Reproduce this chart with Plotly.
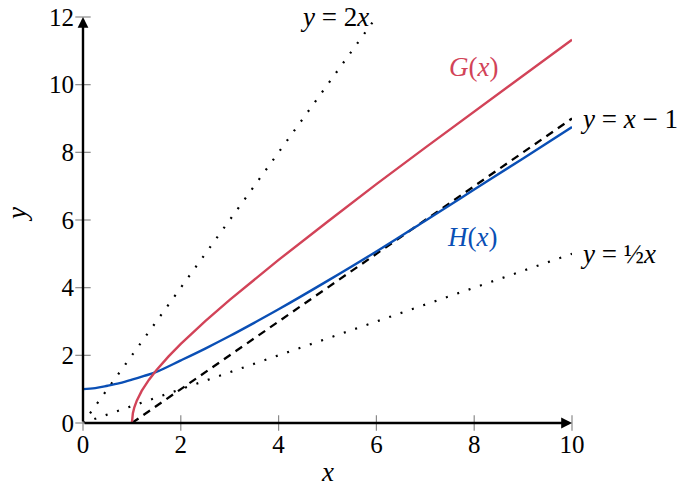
import plotly.graph_objects as go

# axis ticks
x_ticks = [0, 2, 4, 6, 8, 10]
y_ticks = [0, 2, 4, 6, 8, 10, 12]

# G(x)
g_x = [1, 1.005, 1.02, 1.05, 1.1, 1.2, 1.35, 1.5, 1.75, 2, 2.5, 3, 4, 5, 6, 7, 8, 9, 10]
g_y = [0, 0.146, 0.293, 0.465, 0.66, 0.95, 1.28, 1.56, 1.97, 2.34, 3.01, 3.64,
       4.82, 5.95, 7.06, 8.14, 9.21, 10.27, 11.33]

# H(x)
h_x = [0, 0.25, 0.5, 0.75, 1, 1.25, 1.5, 2, 2.5, 3, 3.5, 4, 5, 6, 7, 8, 9, 10]
h_y = [1.0, 1.03, 1.1, 1.18, 1.28, 1.39, 1.51, 1.85, 2.2, 2.57, 2.96, 3.36,
       4.2, 5.07, 5.98, 6.9, 7.82, 8.75]

# reference lines
twox_x, twox_y = [0, 6], [0, 12]
half_x, half_y = [0, 10], [0, 5]
xm1_x, xm1_y = [1, 10], [0, 9]

RED = "#d24358"
BLUE = "#0a4fb5"
FONT = "Liberation Serif"

fig = go.Figure()

dotted = dict(color="black", width=2.2, dash="2px,10px")
fig.add_trace(go.Scatter(x=twox_x, y=twox_y, mode="lines", line=dotted))
fig.add_trace(go.Scatter(x=half_x, y=half_y, mode="lines", line=dotted))
fig.add_trace(go.Scatter(x=xm1_x, y=xm1_y, mode="lines",
                         line=dict(color="black", width=2.3, dash="8px,6px")))
fig.add_trace(go.Scatter(x=h_x, y=h_y, mode="lines", line_shape="spline",
                         line=dict(color=BLUE, width=2.4)))
fig.add_trace(go.Scatter(x=g_x, y=g_y, mode="lines",
                         line=dict(color=RED, width=2.4)))

# gray tick marks crossing the axes
tick_marker = dict(size=11, color="#8a8a8a", line=dict(color="#8a8a8a", width=1.2))
fig.add_trace(go.Scatter(x=x_ticks, y=[0] * len(x_ticks), mode="markers", cliponaxis=False,
                         marker=dict(symbol="line-ns-open", **tick_marker)))
fig.add_trace(go.Scatter(x=[0] * len(y_ticks), y=y_ticks, mode="markers", cliponaxis=False,
                         marker=dict(symbol="line-ew-open", **tick_marker)))

# axes with arrows
for tip, tail in [((x_ticks[-1], 0), (0, 0)), ((0, y_ticks[-1]), (0, 0))]:
    fig.add_annotation(x=tip[0], y=tip[1], ax=tail[0], ay=tail[1],
                       xref="x", yref="y", axref="x", ayref="y", text="",
                       showarrow=True, arrowhead=2, arrowsize=0.9,
                       arrowwidth=2.4, arrowcolor="black")

lab = dict(family=FONT, size=27, color="black")
fig.add_annotation(x=twox_x[-1], y=twox_y[-1], text="<i>y</i> = 2<i>x</i>",
                   showarrow=False, xanchor="right", xshift=-5, font=lab)
fig.add_annotation(x=xm1_x[-1], y=xm1_y[-1], text="<i>y</i> = <i>x</i> − 1",
                   showarrow=False, xanchor="left", xshift=6, font=lab)
fig.add_annotation(x=half_x[-1], y=half_y[-1], text="<i>y</i> = ½<i>x</i>",
                   showarrow=False, xanchor="left", xshift=6, font=lab)
fig.add_annotation(x=7.98, y=10.52, text="<i>G</i>(<i>x</i>)", showarrow=False,
                   font=dict(family=FONT, size=27, color=RED))
fig.add_annotation(x=7.95, y=5.5, text="<i>H</i>(<i>x</i>)", showarrow=False,
                   font=dict(family=FONT, size=27, color=BLUE))

# axis titles
fig.add_annotation(x=5, y=0, yshift=-49, text="<i>x</i>", showarrow=False, font=lab)
fig.add_annotation(x=0, y=6.15, xshift=-66, text="<i>y</i>", showarrow=False,
                   textangle=-90, font=lab)

tickfont = dict(family=FONT, size=25, color="black")
fig.update_xaxes(range=[0, 10], tickvals=x_ticks, showgrid=False, zeroline=False,
                 showline=False, ticks="", tickfont=tickfont, automargin=False,
                 ticklabelstandoff=4, ticklabeloverflow="allow")
fig.update_yaxes(range=[0, 12], tickvals=y_ticks, showgrid=False, zeroline=False,
                 showline=False, ticks="", tickfont=tickfont, automargin=False,
                 ticklabelstandoff=8, ticklabeloverflow="allow")

fig.update_layout(width=685, height=488, showlegend=False,
                  margin=dict(l=83, r=113, t=17, b=65),
                  plot_bgcolor="white", paper_bgcolor="white")

# drop the page's default 8px body margin so the figure fills the window
fig.write_html("out.html", config={"displayModeBar": False},
               post_script="document.body.style.margin='0';")
